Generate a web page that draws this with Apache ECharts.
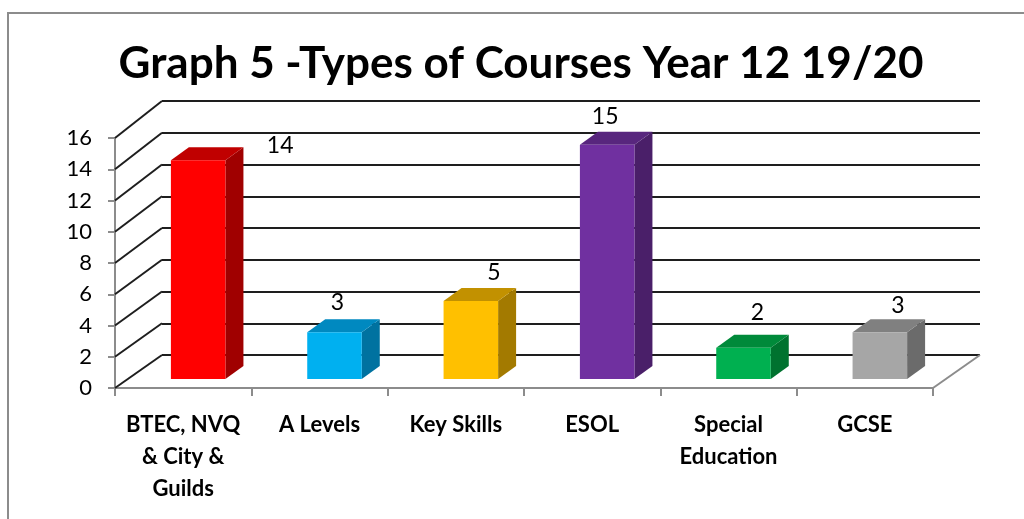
<!DOCTYPE html>
<html>
<head>
<meta charset="utf-8">
<script src="https://cdn.jsdelivr.net/npm/echarts@6/dist/echarts.min.js"></script>
<style>
  html, body { margin: 0; padding: 0; background: #fff; }
  #chart { width: 1024px; height: 519px; }
</style>
</head>
<body>
<div id="chart"></div>
<script>
  // data
  const categories = ['BTEC, NVQ\n& City &\nGuilds', 'A Levels', 'Key Skills', 'ESOL', 'Special\nEducation', 'GCSE'];
  const counts = [14, 3, 5, 15, 2, 3];
  const yMin = 0, yMax = 16, yStep = 2;
  const gridValues = [0, 2, 4, 6, 8, 10, 12, 14, 16];

  // colours of each box: front, side, top
  const faceColors = ['#FF0000', '#00B0F0', '#FFC000', '#7030A0', '#00B050', '#A6A6A6'];
  const sideColors = ['#A00000', '#0072A0', '#A37A00', '#4A1F69', '#00722F', '#6B6B6B'];
  const topColors = ['#C00000', '#0089C0', '#C29100', '#58267E', '#008A3A', '#808080'];
  // where excel put the value labels, relative to the top of each box
  const labelShift = [[82, -15], [3, -30], [23, -28], [-2, -28], [14, -35], [18, -27]];

  const font = 'Lato, "Open Sans", sans-serif';
  const DX = 47, DY = -33, DY_TOP = -37;   // depth of the 3d box (wall offset), a little perspective at top
  const FX = 15, FY = -9;       // bars stand a bit inside the floor
  const BX = 18, BY = -13;      // bar depth

  let chart = echarts.init(document.getElementById('chart'));

  let option = {
    animation: false,
    title: {
      text: 'Graph 5 -Types of Courses Year 12 19/20',
      left: 516,
      top: 37,
      textAlign: 'center',
      textStyle: { fontFamily: font, fontSize: 44, fontWeight: 'bold', color: '#000' }
    },
    graphic: [{
      type: 'rect',
      shape: { x: 8, y: 13, width: 1040, height: 540 },
      style: { fill: 'none', stroke: '#8c8c8c', lineWidth: 2 },
      silent: true
    }],
    grid: [
      { left: 115, right: 91, top: 138, bottom: 131 },
      { left: 115 + DX, right: 91 - DX, top: 138 + DY_TOP, bottom: 131 - DY }
    ],
    xAxis: [{
      type: 'category',
      gridIndex: 0,
      data: categories,
      axisLine: { lineStyle: { color: '#8c8c8c', width: 2 } },
      axisTick: { show: true, length: 8, lineStyle: { color: '#8c8c8c', width: 2 } },
      axisLabel: {
        margin: 21, fontFamily: font, fontSize: 22, fontWeight: 'bold',
        color: '#000', lineHeight: 32, interval: 0
      }
    }, {
      type: 'category',
      gridIndex: 1,
      data: categories,
      show: false
    }],
    yAxis: [{
      type: 'value',
      gridIndex: 0,
      min: yMin, max: yMax, interval: yStep,
      axisLine: { show: true, lineStyle: { color: '#8c8c8c', width: 2 } },
      axisTick: { show: true, length: 7, lineStyle: { color: '#8c8c8c', width: 2 } },
      axisLabel: { margin: 23, fontFamily: font, fontSize: 22, color: '#000' },
      splitLine: { show: false }
    }, {
      type: 'value',
      gridIndex: 1,
      min: yMin, max: yMax, interval: yStep,
      axisLine: { show: false },
      axisTick: { show: false },
      axisLabel: { show: false },
      splitLine: { show: true, lineStyle: { color: '#1e1e1e', width: 2 } }
    }],
    series: [{
      // left wall lines and right floor edge
      type: 'custom',
      xAxisIndex: 0,
      yAxisIndex: 0,
      z: 1,
      silent: true,
      data: gridValues.map(v => [0, v]),
      renderItem: function (params, api) {
        let cs = params.coordSys;
        let y = api.coord([0, api.value(1)])[1];
        let frac = (cs.y + cs.height - y) / cs.height;
        let dy = DY + (DY_TOP - DY) * frac;
        let children = [{
          type: 'line',
          shape: { x1: cs.x, y1: y, x2: cs.x + DX, y2: y + dy },
          style: { stroke: '#1e1e1e', lineWidth: 2 }
        }];
        if (params.dataIndex === 0) {
          let xr = cs.x + cs.width;
          children.push({
            type: 'line',
            shape: { x1: xr, y1: y, x2: xr + DX, y2: y + dy },
            style: { stroke: '#8c8c8c', lineWidth: 2 }
          });
        }
        return { type: 'group', children: children };
      }
    }, {
      type: 'custom',
      xAxisIndex: 0,
      yAxisIndex: 0,
      z: 3,
      data: counts.map((v, i) => [i, v]),
      renderItem: function (params, api) {
        let i = params.dataIndex;
        let v = api.value(1);
        let base = api.coord([i, 0]);
        let top = api.coord([i, v]);
        let bw = api.size([1, 0])[0] * 0.4;
        let x0 = base[0] + FX - bw / 2;
        let x1 = x0 + bw;
        let yb = base[1] + FY;
        let yt = top[1] + FY;
        return {
          type: 'group',
          children: [{
            type: 'polygon',
            shape: { points: [[x1, yt], [x1 + BX, yt + BY], [x1 + BX, yb + BY], [x1, yb]] },
            style: { fill: sideColors[i] }
          }, {
            type: 'polygon',
            shape: { points: [[x0, yt], [x0 + BX, yt + BY], [x1 + BX, yt + BY], [x1, yt]] },
            style: { fill: topColors[i] }
          }, {
            type: 'rect',
            shape: { x: x0, y: yt, width: bw, height: yb - yt },
            style: { fill: faceColors[i] }
          }, {
            type: 'text',
            x: (x0 + x1) / 2 + labelShift[i][0],
            y: yt + labelShift[i][1],
            style: {
              text: String(v), fill: '#000', font: '23px ' + font,
              align: 'center', verticalAlign: 'middle'
            }
          }]
        };
      }
    }]
  };

  chart.setOption(option);
</script>
</body>
</html>
